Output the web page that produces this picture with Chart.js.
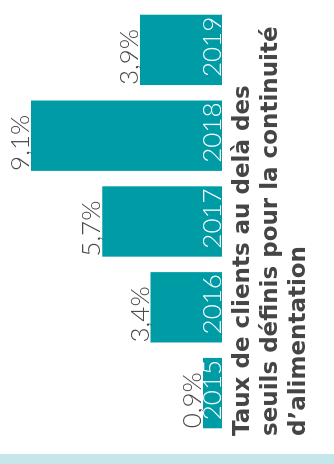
<!DOCTYPE html>
<html lang="fr">
<head>
<meta charset="utf-8">
<script src="https://cdn.jsdelivr.net/npm/chart.js@4"></script>
<style>
  html, body { margin: 0; padding: 0; background: #fff; overflow: hidden; }
  body { width: 334px; height: 464px; position: relative; }
  /* chart is drawn upright then turned a quarter to the left */
  #frame { position: absolute; left: 0; top: 464px; width: 464px; height: 334px; transform-origin: 0 0; transform: rotate(-90deg); }
  #strip { position: absolute; left: 0; top: 454px; width: 334px; height: 10px; background: #c5e6ea; }
</style>
</head>
<body>
<div id="frame"><canvas id="chart" width="464" height="334"></canvas></div>
<div id="strip"></div>
<script>
const years = ["2015", "2016", "2017", "2018", "2019"];
const rates = [0.9, 3.4, 5.7, 9.1, 3.9];
const titleLines = ["Taux de clients au delà des", "seuils définis pour la continuité", "d’alimentation"];

const TEAL = "#009ca6";
const NUM_FONT = "300 26px Lato, 'DejaVu Sans', sans-serif";

const fmt = (v) => v.toFixed(1).replace(".", ",") + "%";

// value on top of each bar + year inside the bar, near the base
const barLabels = {
  id: "barLabels",
  afterDatasetsDraw(chart) {
    const ctx = chart.ctx;
    const meta = chart.getDatasetMeta(0);
    ctx.save();
    ctx.font = NUM_FONT;
    ctx.textBaseline = "alphabetic";
    meta.data.forEach((bar, i) => {
      const { x, y, base, width } = bar.getProps(["x", "y", "base", "width"], true);
      const left = x - width / 2;
      const right = x + width / 2;
      ctx.fillStyle = "#4a4a4a";
      ctx.textAlign = "left";
      ctx.fillText(fmt(rates[i]), left, y - 2);
      ctx.fillStyle = "#ffffff";
      ctx.textAlign = "right";
      ctx.fillText(years[i], right - 2, base - 1);
    });
    ctx.restore();
  },
};

new Chart(document.getElementById("chart"), {
  type: "bar",
  data: {
    labels: years,
    datasets: [{ data: rates, backgroundColor: TEAL, categoryPercentage: 1, barPercentage: 0.82 }],
  },
  options: {
    responsive: false,
    animation: false,
    layout: { padding: { top: 12, left: 28, right: 7, bottom: 14 } },
    scales: {
      x: { display: false },
      y: { display: false, min: 0, max: 10 },
    },
    plugins: {
      legend: { display: false },
      tooltip: { enabled: false },
      title: {
        display: true,
        position: "bottom",
        align: "start",
        text: titleLines,
        color: "#454545",
        font: { family: "'DejaVu Sans', sans-serif", weight: "bold", size: 23, lineHeight: 28 / 23 },
        padding: { top: 7, bottom: 7 },
      },
    },
  },
  plugins: [barLabels],
});
</script>
</body>
</html>
